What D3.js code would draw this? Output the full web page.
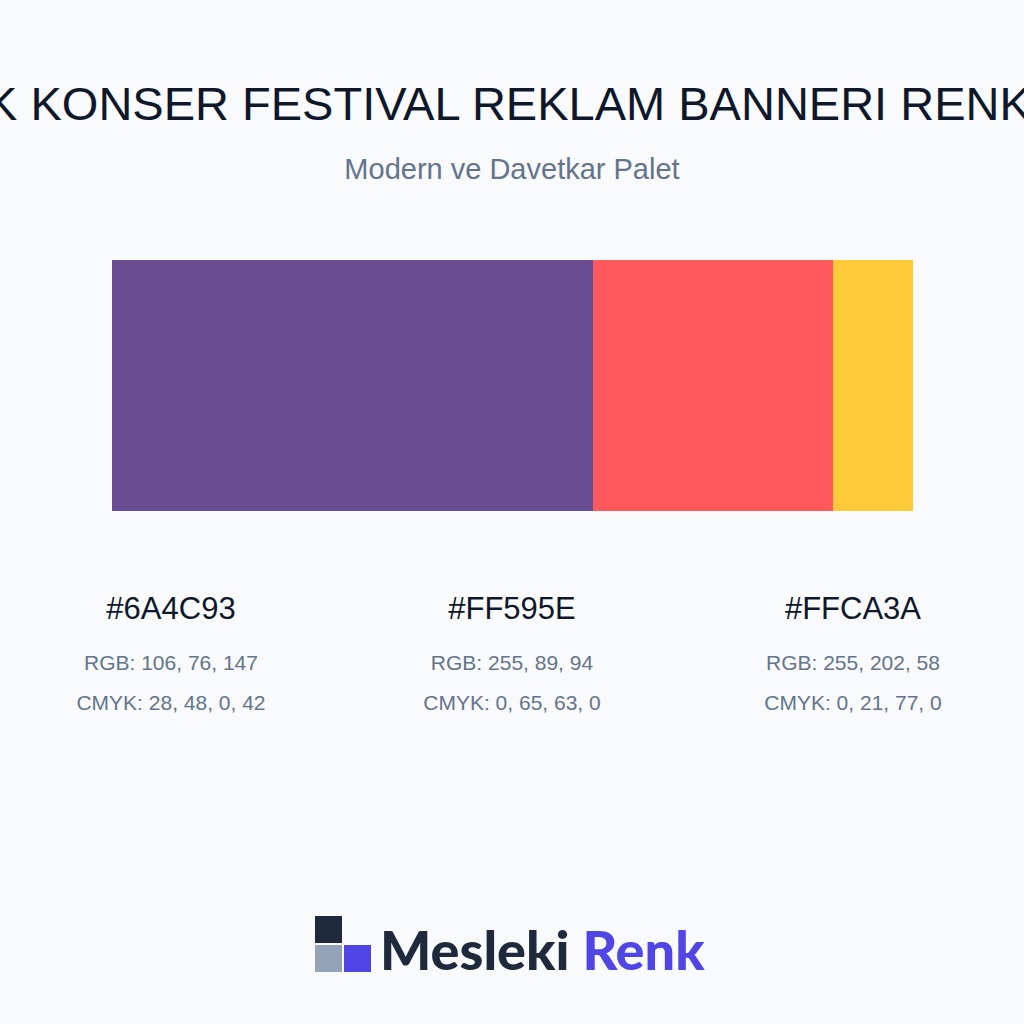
<!DOCTYPE html>
<html><head><meta charset="utf-8">
<script src="https://cdn.jsdelivr.net/npm/d3@7"></script>
<style>body{margin:0;background:#f8fafc}</style></head>
<body><svg id="c" width="1024" height="1024"></svg>
<script>
const hexes=["#6A4C93","#FF595E","#FFCA3A"];
const shares=[60,30,10];
const rgbs=["RGB: 106, 76, 147","RGB: 255, 89, 94","RGB: 255, 202, 58"];
const cmyks=["CMYK: 28, 48, 0, 42","CMYK: 0, 65, 63, 0","CMYK: 0, 21, 77, 0"];
const labelX=[171,512,853];
const svg=d3.select("#c");
svg.append("rect").attr("width",1024).attr("height",1024).attr("fill","#f8fafc");
svg.append("text").attr("x",542).attr("y",120).attr("text-anchor","middle").attr("font-family","Liberation Sans, Arial").attr("font-size",47).attr("fill","#0f172a").text("ROCK KONSER FESTIVAL REKLAM BANNERI RENK PALETİ");
svg.append("text").attr("x",512).attr("y",179).attr("text-anchor","middle").attr("font-family","Liberation Sans, Arial").attr("font-size",29).attr("fill","#64748b").text("Modern ve Davetkar Palet");
const x=d3.scaleLinear().domain([0,d3.sum(shares)]).range([112,913]);
let cum=0;
shares.forEach((s,i)=>{svg.append("rect").attr("x",x(cum)).attr("y",260).attr("width",x(cum+s)-x(cum)).attr("height",251).attr("fill",hexes[i]).attr("shape-rendering","crispEdges");cum+=s;});
hexes.forEach((h,i)=>{
 const g=svg.append("g").attr("font-family","Liberation Sans, Arial").attr("text-anchor","middle");
 g.append("text").attr("x",labelX[i]).attr("y",619).attr("font-size",31).attr("fill","#0f172a").text(h);
 g.append("text").attr("x",labelX[i]).attr("y",670).attr("font-size",21).attr("fill","#64748b").text(rgbs[i]);
 g.append("text").attr("x",labelX[i]).attr("y",710).attr("font-size",21).attr("fill","#64748b").text(cmyks[i]);
});
svg.append("rect").attr("x",315).attr("y",916).attr("width",27).attr("height",27).attr("fill","#1e293b");
svg.append("rect").attr("x",315).attr("y",945).attr("width",27).attr("height",27).attr("fill","#94a3b8");
svg.append("rect").attr("x",344).attr("y",945).attr("width",27).attr("height",27).attr("fill","#4f46e5");
const t=svg.append("text").attr("x",380).attr("y",970).attr("font-family","Lato, Inter, sans-serif").attr("font-weight",900).attr("font-size",54);
t.append("tspan").attr("fill","#1e293b").text("Mesleki ");
t.append("tspan").attr("fill","#4f46e5").text("Renk");
</script></body></html>
